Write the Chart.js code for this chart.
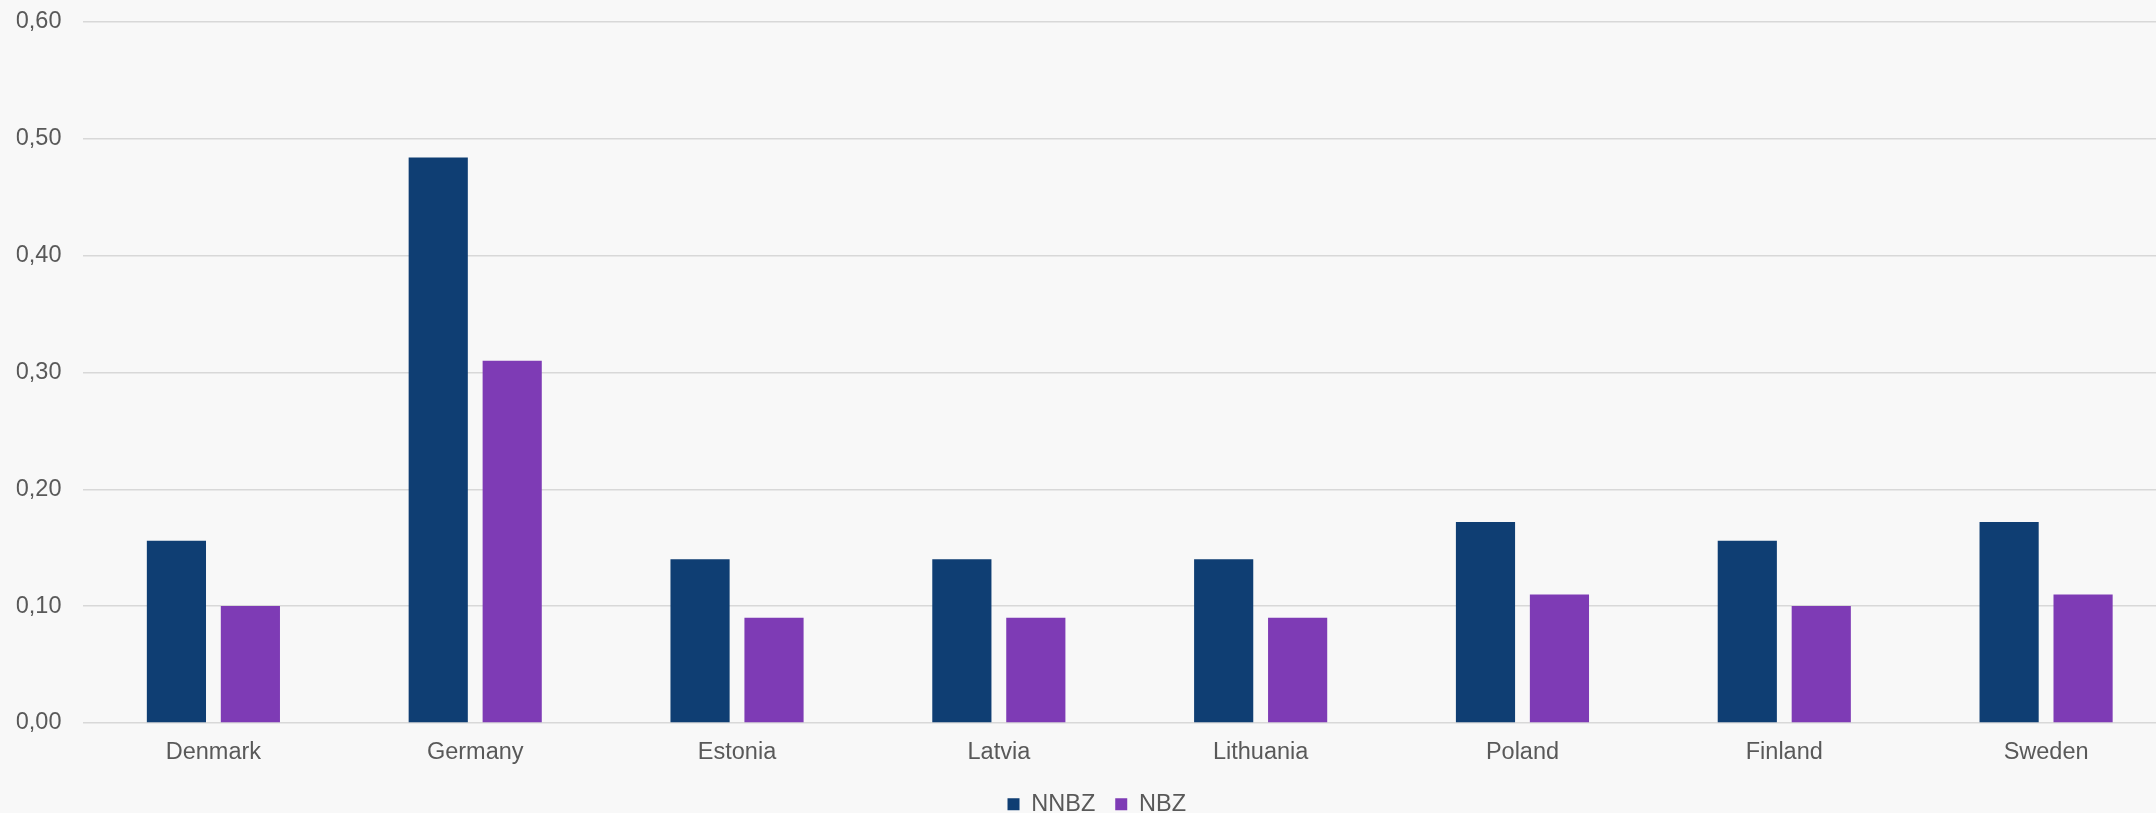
<!DOCTYPE html>
<html>
<head>
<meta charset="utf-8">
<script src="https://cdn.jsdelivr.net/npm/chart.js@4/dist/chart.umd.min.js"></script>
<style>
  html, body { margin: 0; padding: 0; background: #f8f8f8; overflow: hidden; }
  #wrap { position: absolute; left: 0; top: 0; width: 2177px; height: 826px; }
</style>
</head>
<body>
<div id="wrap"><canvas id="c"></canvas></div>
<script>
const categories = ["Denmark", "Germany", "Estonia", "Latvia", "Lithuania", "Poland", "Finland", "Sweden"];
const seriesNames = ["NNBZ", "NBZ"];
const nnbzValues = [0.156, 0.484, 0.14, 0.14, 0.14, 0.172, 0.156, 0.172];
const nbzValues = [0.10, 0.31, 0.09, 0.09, 0.09, 0.11, 0.10, 0.11];
const yTicks = [0, 0.1, 0.2, 0.3, 0.4, 0.5, 0.6];

const FONT = '"Liberation Sans", Arial, Helvetica, sans-serif';
const TEXT = '#595959';

new Chart(document.getElementById('c'), {
  type: 'bar',
  data: {
    labels: categories,
    datasets: [
      { label: seriesNames[0], data: nnbzValues, backgroundColor: '#0f3e73', borderWidth: 0,
        categoryPercentage: 0.565, barPercentage: 0.8 },
      { label: seriesNames[1], data: nbzValues, backgroundColor: '#7e3bb5', borderWidth: 0,
        categoryPercentage: 0.565, barPercentage: 0.8 }
    ]
  },
  options: {
    responsive: true,
    maintainAspectRatio: false,
    devicePixelRatio: 1,
    animation: false,
    layout: { padding: { left: 16.5, right: 0, top: 22, bottom: 0 } },
    plugins: {
      tooltip: { enabled: false },
      legend: {
        position: 'bottom',
        labels: {
          boxWidth: 12, boxHeight: 12, padding: 20,
          color: TEXT, font: { family: FONT, size: 23.5 }
        }
      }
    },
    scales: {
      x: {
        grid: { display: false, drawTicks: true, tickLength: 9.4 },
        border: { display: false },
        ticks: { color: TEXT, font: { family: FONT, size: 23.5 }, padding: 6, maxRotation: 0 }
      },
      y: {
        min: yTicks[0], max: yTicks[yTicks.length - 1],
        afterBuildTicks: (axis) => { axis.ticks = yTicks.map(v => ({ value: v })); },
        afterFit: (axis) => { axis.width = 66; axis.paddingTop = 0; axis.paddingBottom = 0; },
        grid: { color: '#d8d8d8', lineWidth: 1.5, drawTicks: false },
        border: { display: false },
        ticks: {
          color: TEXT, font: { family: FONT, size: 23.5 }, padding: 21,
          callback: (v) => Number(v).toFixed(2).replace('.', ',')
        }
      }
    }
  }
});
</script>
</body>
</html>
